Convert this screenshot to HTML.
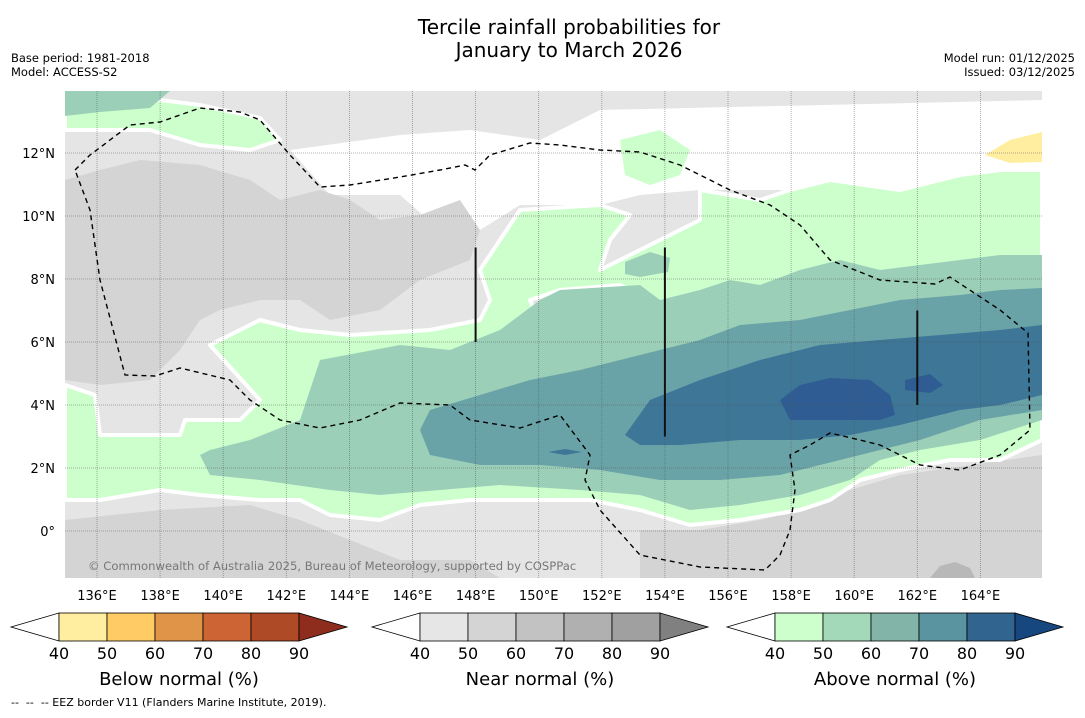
<!DOCTYPE html>
<html><head><meta charset="utf-8"><style>
body{margin:0;background:#fff;font-family:"Liberation Sans","DejaVu Sans",sans-serif}
svg text{font-family:"DejaVu Sans","Liberation Sans",sans-serif}
</style></head><body>
<svg id="s" width="1085" height="713" viewBox="0 0 1085 713">
<defs><clipPath id="mc"><rect x="65" y="91" width="977" height="487"/></clipPath></defs>
<text x="569" y="34" font-size="20" text-anchor="middle">Tercile rainfall probabilities for</text>
<text x="569" y="57" font-size="20" text-anchor="middle">January to March 2026</text>
<text x="11" y="62" font-size="11.5">Base period: 1981-2018</text>
<text x="11" y="76" font-size="11.5">Model: ACCESS-S2</text>
<text x="1075" y="62" font-size="11.5" text-anchor="end">Model run: 01/12/2025</text>
<text x="1075" y="76" font-size="11.5" text-anchor="end">Issued: 03/12/2025</text>
<g id="map" clip-path="url(#mc)"></g>
<g id="ax"></g>
<text x="88" y="570" font-size="11.6" fill="#777">© Commonwealth of Australia 2025, Bureau of Meteorology, supported by COSPPac</text>
<g id="cb"></g>
<text x="11" y="706" font-size="11" style="white-space:pre">--  --  -- EEZ border V11 (Flanders Marine Institute, 2019).</text>
</svg>
<script>
const NS="http://www.w3.org/2000/svg";
const lonTicks=[136,138,140,142,144,146,148,150,152,154,156,158,160,162,164];
const latTicks=[0,2,4,6,8,10,12];
const cbLevels=[40,50,60,70,80,90];
const belowColors=["#fff","#ffeda0","#fecb64","#e09448","#cc6533","#af4a26","#8e2d1d"];
const nearColors=["#fff","#e6e6e6","#d4d4d4","#c2c2c2","#b0b0b0","#a0a0a0","#808080"];
const aboveColors=["#fff","#ccffcc","#a3d9b8","#83b4a8","#5a94a0","#31658f","#16487f"];
function px2ll(p){const a=[];for(let i=0;i<p.length;i+=2)a.push([136+(p[i]-97)/31.55,(531-p[i+1])/31.5]);return a;}
function X(lon){return 97+(lon-136)*31.55;} function Y(lat){return 531-lat*31.5;}
const regWhiteTop=px2ll([290,150,400,135,470,130,540,140,600,110,1042,100,1042,170,960,175,900,190,830,180,790,190,700,190,640,195,600,205,520,205,480,230,440,230,400,195,330,195]);
const regGrayDark=px2ll([65,180,100,170,140,160,200,165,250,180,280,200,320,190,350,200,380,220,420,215,460,200,480,230,470,260,420,280,380,310,330,320,300,300,260,300,220,310,200,320,180,350,150,380,100,385,65,380]);
const regGreenTL=px2ll([65,100,120,95,200,105,260,118,280,140,250,150,200,145,150,130,65,130]);
const regTealTL=px2ll([65,91,170,91,150,108,100,112,65,116]);
const regGreenTop=px2ll([620,140,660,130,690,150,680,175,650,185,625,175]);
const regYellow=px2ll([985,155,1010,140,1042,132,1042,162,1010,163]);
const regGreen=px2ll([65,385,95,395,100,435,180,435,185,420,240,420,260,400,210,345,260,320,300,330,350,335,430,330,480,320,490,300,480,270,500,240,520,210,600,205,630,215,610,240,600,270,640,250,700,220,700,190,760,200,790,190,830,180,900,190,960,175,1000,170,1042,170,1042,440,1000,460,950,460,900,470,860,480,830,500,800,510,740,520,690,525,640,510,590,500,530,500,470,500,420,505,380,520,330,515,300,500,260,500,200,495,160,490,130,495,100,500,65,500]);
const regGrayPatch=px2ll([530,300,560,290,620,285,650,300,640,320,600,330,540,325]);
const reg50=px2ll([200,455,210,450,250,440,300,420,320,360,400,345,450,350,500,330,540,300,560,290,640,285,660,300,700,290,730,280,760,285,800,270,840,260,880,270,920,265,960,260,1000,255,1042,255,1042,420,980,440,920,450,880,460,850,480,800,495,740,505,690,510,640,495,580,490,500,485,440,490,380,495,330,490,260,480,210,475]);
const reg50b=px2ll([625,262,650,252,670,258,668,272,640,277,625,274]);
const reg60=px2ll([420,430,430,410,480,395,530,380,580,370,640,355,700,340,740,325,800,320,850,310,900,300,960,295,1000,290,1042,288,1042,410,980,420,920,440,880,450,840,460,780,475,720,480,660,480,600,470,540,465,480,465,430,455]);
const reg70=px2ll([625,435,650,400,700,380,730,370,760,360,820,345,880,340,940,335,1000,330,1042,325,1042,395,1000,405,960,410,900,425,850,435,800,440,740,440,680,445,640,445]);
const reg70b=px2ll([548,452,565,449,582,452,565,455]);
const reg80=px2ll([780,400,800,385,830,378,870,380,890,395,895,415,880,420,830,420,790,420]);
const reg80b=px2ll([905,380,930,374,943,385,930,393,905,390]);
const regGrayBR=px2ll([640,530,700,530,760,520,800,510,850,490,900,475,1042,455,1042,578,640,578]);
const regGrayBR2=px2ll([930,578,940,566,955,562,970,568,975,578]);
const regGrayBL=px2ll([160,510,250,505,300,520,350,540,400,560,470,560,500,578,65,578,65,520]);
const eez=px2ll([75,170,90,155,130,125,160,122,200,108,240,112,260,120,290,155,320,187,350,185,400,177,440,170,465,165,475,170,490,155,530,143,560,145,600,150,640,152,680,165,700,175,730,190,770,205,800,225,830,260,880,280,935,284,950,277,1000,310,1028,333,1030,430,1000,455,960,470,920,465,880,445,860,440,830,433,810,445,790,455,795,490,790,530,780,555,765,570,700,567,640,555,600,510,585,480,590,455,575,435,560,415,520,428,470,420,450,405,400,403,360,420,320,428,280,420,250,400,230,380,180,368,155,376,125,375,100,280,90,210,75,170]);
const boxLines=[[148,9,6],[154,9,3],[162,7,4]];
const map=document.getElementById('map');
function el(t,a,p){const e=document.createElementNS(NS,t);for(const k in a)e.setAttribute(k,a[k]);(p||map).appendChild(e);return e;}
function poly(r,fill,name,stroke){const e=el('polygon',{points:r.map(q=>X(q[0]).toFixed(1)+','+Y(q[1]).toFixed(1)).join(' '),fill:fill,stroke:stroke||'none','stroke-width':stroke?4:0,'stroke-linejoin':'round'});

return e;}
el('rect',{x:65,y:91,width:977,height:487,fill:'#e5e5e5'});
poly(regWhiteTop,'#fff','white-region-top');
poly(regGrayDark,'#d4d4d4','near-normal-50-left');
poly(regGreenTL,'#ccffcc','above-40-topleft','#fff');
poly(regTealTL,'#9ccfb8','above-50-topleft');
poly(regGreenTop,'#ccffcc','above-40-top');
poly(regYellow,'#ffeda0','below-40-topright');
poly(regGrayBL,'#d4d4d4','near-normal-50-bottomleft');
poly(regGrayBR,'#d4d4d4','near-normal-50-bottomright');
poly(regGrayBR2,'#b8b8b8','near-normal-60-bottomright');
poly(regGreen,'#ccffcc','above-40-main','#fff');
poly(regGrayPatch,'#e5e5e5','near-normal-patch','#fff');
poly(reg50,'#9ccfb8','above-50-main');
poly(reg50b,'#9ccfb8','above-50-patch');
poly(reg60,'#6aa3a7','above-60-main');
poly(reg70,'#3e7697','above-70-main');
poly(reg70b,'#3e7697','above-70-patch');
poly(reg80,'#2f5d93','above-80-main');
poly(reg80b,'#2f5d93','above-80-patch');
lonTicks.forEach(l=>{const g=el('line',{x1:X(l),x2:X(l),y1:91,y2:578,stroke:'#555','stroke-width':0.8,'stroke-dasharray':'1,1','stroke-opacity':0.6});

});
latTicks.forEach(l=>{const g=el('line',{x1:65,x2:1042,y1:Y(l),y2:Y(l),stroke:'#555','stroke-width':0.8,'stroke-dasharray':'1,1','stroke-opacity':0.6});

});
const ez=el('polyline',{points:eez.map(q=>X(q[0]).toFixed(1)+','+Y(q[1]).toFixed(1)).join(' '),fill:'none',stroke:'#000','stroke-width':1.4,'stroke-dasharray':'5,4'});


boxLines.forEach(b=>{const ln=el('line',{x1:X(b[0]),x2:X(b[0]),y1:Y(b[1]),y2:Y(b[2]),stroke:'#111','stroke-width':2});

});
const ax=document.getElementById('ax');
lonTicks.forEach(l=>{const t=el('text',{x:X(l),y:600,'font-size':13,'text-anchor':'middle'},ax);t.textContent=l+'°E';

});
latTicks.forEach(l=>{const t=el('text',{x:55,y:Y(l)+5,'font-size':13,'text-anchor':'end'},ax);t.textContent=l===0?'0°':l+'°N';

});
const cb=document.getElementById('cb');
function bar(x0,cols,title,name){const g=el('g',{},cb);


const w=48,y0=613,y1=641,ym=627,L=x0+48;
el('polygon',{points:`${x0},${ym} ${L},${y0} ${L},${y1}`,fill:cols[0],stroke:'#000','stroke-width':0.8},g);
for(let i=0;i<5;i++)el('rect',{x:L+i*w,y:y0,width:w,height:28,fill:cols[i+1],stroke:'#000','stroke-width':0.8},g);
const R=L+5*w;el('polygon',{points:`${R},${y0} ${R+48},${ym} ${R},${y1}`,fill:cols[6],stroke:'#000','stroke-width':0.8},g);
cbLevels.forEach((v,i)=>{const t=el('text',{x:L+i*w,y:659,'font-size':16,'text-anchor':'middle'},g);t.textContent=v;});
const t=el('text',{x:L+2.5*w,y:685,'font-size':18,'text-anchor':'middle'},g);t.textContent=title;}
bar(11,belowColors,'Below normal (%)','below-normal-colorbar');
bar(372,nearColors,'Near normal (%)','near-normal-colorbar');
bar(727,aboveColors,'Above normal (%)','above-normal-colorbar');
</script>
</body></html>
